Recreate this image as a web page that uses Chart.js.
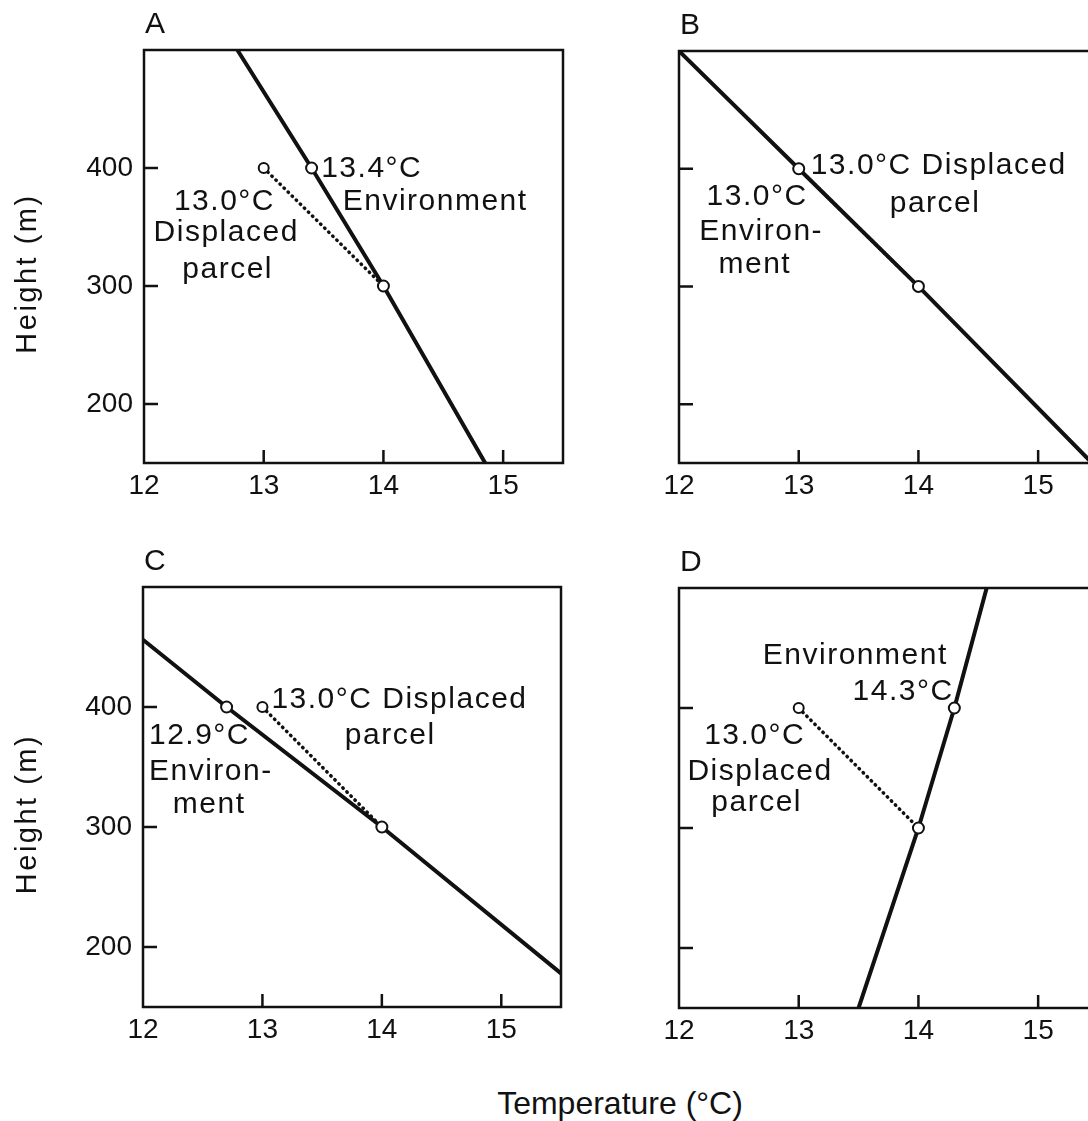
<!DOCTYPE html>
<html><head><meta charset="utf-8">
<script src="https://cdn.jsdelivr.net/npm/chart.js@4/dist/chart.umd.min.js"></script>
<style>
html,body{margin:0;padding:0;background:#fff;width:1088px;height:1121px;overflow:hidden;position:relative}
.p{position:absolute}
#title{position:absolute;left:0;width:1240px;top:1087px;text-align:center;font:32px 'Liberation Sans',Arial,sans-serif;line-height:32px;color:#111;white-space:nowrap}
</style></head><body>
<div class="p" style="left:0;top:0"><canvas id="cA" width="575" height="530"></canvas></div>
<div class="p" style="left:540px;top:0"><canvas id="cB" width="570" height="530"></canvas></div>
<div class="p" style="left:0;top:520px"><canvas id="cC" width="575" height="560"></canvas></div>
<div class="p" style="left:540px;top:520px"><canvas id="cD" width="570" height="560"></canvas></div>
<div id="title">Temperature (°C)</div>
<script>
// ---- data ----
const panelLetters = ['A', 'B', 'C', 'D'];
const xTickValues = [12, 13, 14, 15];
const yTickValues = [200, 300, 400];
const displaceLevels = [300, 400];

const envTempA = [12.78, 13.4, 14.0, 14.85];
const envHeightA = [500, 400, 300, 150];
const envTempB = [12.0, 13.0, 14.0, 15.45];
const envHeightB = [500, 400, 300, 150];
const envTempC = [12.0, 12.7, 14.0, 15.5];
const envHeightC = [456, 400, 300, 178];
const envTempD = [13.5, 14.0, 14.3, 14.57];
const envHeightD = [150, 300, 400, 500];

const parcelTemp = [13.0, 14.0];
const parcelHeight = [400, 300];

const labelsA = ['13.4°C', 'Environment', '13.0°C', 'Displaced', 'parcel'];
const labelsB = ['13.0°C Displaced', 'parcel', '13.0°C', 'Environ-', 'ment'];
const labelsC = ['13.0°C Displaced', 'parcel', '12.9°C', 'Environ-', 'ment'];
const labelsD = ['Environment', '14.3°C', '13.0°C', 'Displaced', 'parcel'];
const yTitle = 'Height (m)';

// ---- layout / style (not data) ----
const INK = '#111';
const FONT = "'Liberation Sans', Arial, Helvetica, sans-serif";
const labelPosA = [[13.48, 392.5], [13.66, 364.4], [12.25, 364.4], [12.08, 338.4], [12.32, 307.2]];
const labelPosB = [[13.10, 395.2], [13.76, 363.3], [12.23, 369.0], [12.17, 339.3], [12.33, 311.0]];
const labelPosC = [[13.075, 399.3], [13.69, 368.9], [12.05, 368.9], [12.05, 339.2], [12.25, 311.4]];
const labelPosD = [[12.70, 437.0], [13.45, 406.7], [12.21, 369.9], [12.07, 339.6], [12.27, 313.9]];

const panels = [
  {id: 'cA', letter: panelLetters[0], t: envTempA, h: envHeightA, labels: labelsA, pos: labelPosA, padTop: 50, padRight: 12, yW: 144, xH: 67, showY: true},
  {id: 'cB', letter: panelLetters[1], t: envTempB, h: envHeightB, labels: labelsB, pos: labelPosB, padTop: 51, padRight: 12, yW: 139, xH: 67, showY: false},
  {id: 'cC', letter: panelLetters[2], t: envTempC, h: envHeightC, labels: labelsC, pos: labelPosC, padTop: 67, padRight: 14, yW: 143, xH: 73, showY: true},
  {id: 'cD', letter: panelLetters[3], t: envTempD, h: envHeightD, labels: labelsD, pos: labelPosD, padTop: 68, padRight: 12, yW: 139, xH: 72, showY: false}
];

const framePlugin = {
  id: 'frame',
  beforeDatasetsDraw(chart) {
    const {ctx, chartArea: a, scales: {x, y}} = chart;
    ctx.save();
    ctx.strokeStyle = INK;
    ctx.lineWidth = 2.5;
    ctx.strokeRect(a.left, a.top, a.right - a.left, a.bottom - a.top);
    ctx.beginPath();
    x.ticks.forEach(tk => {
      const px = x.getPixelForValue(tk.value);
      if (px - a.left < 3) return;
      ctx.moveTo(px, a.bottom);
      ctx.lineTo(px, a.bottom - 13);
    });
    y.ticks.forEach(tk => {
      const py = y.getPixelForValue(tk.value);
      ctx.moveTo(a.left, py);
      ctx.lineTo(a.left + 14, py);
    });
    ctx.stroke();
    ctx.restore();
  },
  afterDraw(chart) {
    const p = chart.config.options.plugins.frame;
    const {ctx, chartArea: a, scales: {x, y}} = chart;
    ctx.save();
    ctx.fillStyle = INK;
    ctx.font = '30px ' + FONT;
    ctx.textAlign = 'left';
    ctx.textBaseline = 'alphabetic';
    ctx.fillText(p.letter, a.left + 1, a.top - 17);
    ctx.letterSpacing = '1.5px';
    p.labels.forEach((txt, i) => {
      const [tx, ty] = p.pos[i];
      ctx.fillText(txt, x.getPixelForValue(tx), y.getPixelForValue(ty));
    });
    if (p.showY) {
      ctx.letterSpacing = '2.5px';
      ctx.font = '29px ' + FONT;
      ctx.translate(36, (a.top + a.bottom) / 2 + 17);
      ctx.rotate(-Math.PI / 2);
      ctx.textAlign = 'center';
      ctx.fillText(yTitle, 0, 0);
    }
    ctx.restore();
  }
};

panels.forEach(p => {
  const envData = p.t.map((t, i) => ({x: t, y: p.h[i]}));
  const parcelData = parcelTemp.map((t, i) => ({x: t, y: parcelHeight[i]}));
  new Chart(document.getElementById(p.id), {
    type: 'scatter',
    data: {
      datasets: [
        {
          label: 'Environment',
          data: envData,
          showLine: true,
          borderColor: INK,
          borderWidth: 4,
          pointRadius: p.h.map(h => displaceLevels.includes(h) ? 5.5 : 0),
          pointBackgroundColor: '#fff',
          pointBorderColor: INK,
          pointBorderWidth: 2,
          tension: 0
        },
        {
          label: 'Displaced parcel',
          data: parcelData,
          showLine: true,
          borderColor: INK,
          borderWidth: 3.5,
          borderDash: [0.5, 5.2],
          borderCapStyle: 'round',
          pointRadius: [5, 0],
          pointBackgroundColor: '#fff',
          pointBorderColor: INK,
          pointBorderWidth: 2,
          tension: 0
        }
      ]
    },
    options: {
      responsive: false,
      animation: false,
      events: [],
      layout: {padding: {top: p.padTop, right: p.padRight, left: 0, bottom: 0}},
      plugins: {
        legend: {display: false},
        tooltip: {enabled: false},
        frame: {letter: p.letter, labels: p.labels, pos: p.pos, showY: p.showY}
      },
      scales: {
        x: {
          type: 'linear', min: 12, max: 15.5,
          afterBuildTicks: s => { s.ticks = xTickValues.map(v => ({value: v})); },
          afterFit: s => { s.height = p.xH; },
          grid: {display: false, drawTicks: false},
          border: {display: false},
          ticks: {color: INK, font: {family: FONT, size: 28}, padding: 6, maxRotation: 0, autoSkip: false, callback: v => String(v)}
        },
        y: {
          type: 'linear', min: 150, max: 500,
          afterBuildTicks: s => { s.ticks = yTickValues.map(v => ({value: v})); },
          afterFit: s => { s.width = p.yW; },
          grid: {display: false, drawTicks: false},
          border: {display: false},
          ticks: {display: p.showY, color: INK, font: {family: FONT, size: 28}, padding: 11, autoSkip: false, callback: v => String(v)}
        }
      }
    },
    plugins: [framePlugin]
  });
});
</script>
</body></html>
